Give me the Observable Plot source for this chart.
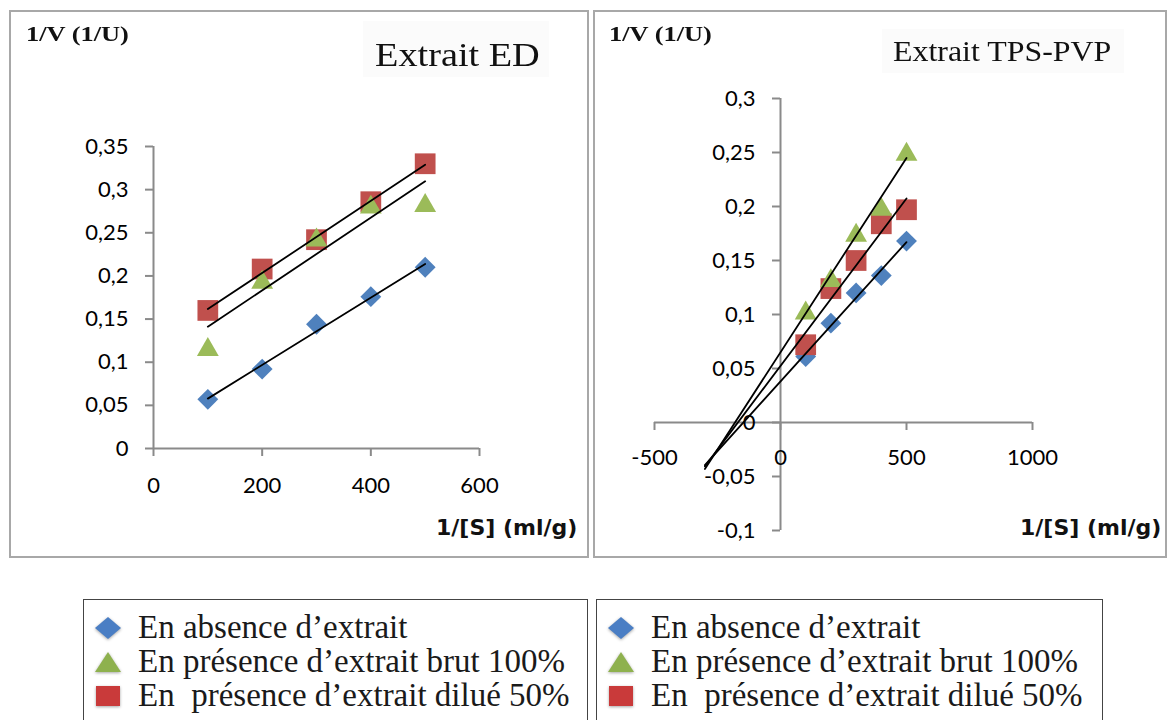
<!DOCTYPE html>
<html>
<head>
<meta charset="utf-8">
<script src="https://cdn.jsdelivr.net/npm/d3@7"></script>
<script src="https://cdn.jsdelivr.net/npm/@observablehq/plot@0.6"></script>
<style>
  html, body { margin: 0; padding: 0; background: #fff; }
  body { width: 1169px; height: 720px; overflow: hidden; position: relative; }
  .panel { position: absolute; border: 2px solid #a8a8a8; box-sizing: border-box; }
  .serif { font-family: "Liberation Serif", "Times New Roman", serif; color: #111; white-space: pre; line-height: 1; transform-origin: 0 0; }
  .axlab { font-family: "DejaVu Sans", sans-serif; font-weight: bold; font-size: 22px; line-height: 1; color: #111; white-space: pre; }
  .legend { position: absolute; border: 1px solid #444; box-sizing: border-box; background: #fff; }
  .legrow { position: absolute; font-family: "Liberation Serif", "Times New Roman", serif; font-size: 33px; line-height: 1; color: #1a1a1a; white-space: pre; }
</style>
</head>
<body>
<script>
// ---------- data ----------
const seriesNames = ["En absence d\u2019extrait", "En pr\u00e9sence d\u2019extrait brut 100%", "En  pr\u00e9sence d\u2019extrait dilu\u00e9 50%"];
const seriesColors = ["#4F81BD", "#9BBB59", "#C0504D"];
const seriesSymbols = ["diamond2", "triangle", "square"];

const xValues = [100, 200, 300, 400, 500];

// Extrait ED
const edAbsence = [0.057, 0.092, 0.144, 0.176, 0.210];
const edBrut    = [0.118, 0.196, 0.245, 0.283, 0.285];
const edDilue   = [0.160, 0.208, 0.242, 0.286, 0.330];
const edXTicks = [0, 200, 400, 600];
const edYTicks = [0, 0.05, 0.1, 0.15, 0.2, 0.25, 0.3, 0.35];

// Extrait TPS-PVP
const tpsAbsence = [0.061, 0.092, 0.120, 0.136, 0.168];
const tpsBrut    = [0.104, 0.134, 0.176, 0.200, 0.251];
const tpsDilue   = [0.072, 0.124, 0.150, 0.184, 0.197];
const tpsXTicks = [-500, 0, 500, 1000];
const tpsYTicks = [-0.1, -0.05, 0, 0.05, 0.1, 0.15, 0.2, 0.25, 0.3];
const tpsBackwardForecast = 400; // trendline extended backwards

const edTitle = "Extrait ED";
const tpsTitle = "Extrait TPS-PVP";
const yLabel = "1/V (1/U)";
const xLabel = "1/[S] (ml/g)";

// ---------- helpers ----------
const gray = "#8a8a8a";
const fmt = d => String(+d.toFixed(2)).replace(".", ",");

function toRows(series) {
  return series.flatMap((ys, s) => xValues.map((x, i) => ({x, y: ys[i], s})));
}
function regression(xs, ys) {
  const mx = d3.mean(xs), my = d3.mean(ys);
  const slope = d3.sum(xs, (x, i) => (x - mx) * (ys[i] - my)) / d3.sum(xs, x => (x - mx) ** 2);
  return {slope, intercept: my - slope * mx};
}
function trendRows(series, backward) {
  return series.flatMap((ys, s) => {
    const {slope, intercept} = regression(xValues, ys);
    const x0 = d3.min(xValues) - backward, x1 = d3.max(xValues);
    return [{x: x0, y: intercept + slope * x0, s}, {x: x1, y: intercept + slope * x1, s}];
  });
}
const drawOrder = [0, 2, 1];
function dotMarks(rows) {
  return drawOrder.map(s => Plot.dot(rows.filter(d => d.s === s), {
    x: "x", y: "y", symbol: seriesSymbols[s], fill: seriesColors[s], stroke: "none",
    r: s === 0 ? 9.4 : s === 1 ? 8.1 : 11.7, dy: s === 1 ? 3 : 0
  }));
}

function place(el, left, top) {
  el.style.position = "absolute";
  el.style.left = left + "px";
  el.style.top = top + "px";
  document.body.appendChild(el);
}
function addText(cls, text, left, top, extraStyle) {
  const d = document.createElement("div");
  d.className = cls;
  d.textContent = text;
  if (extraStyle) Object.assign(d.style, extraStyle);
  place(d, left, top);
  return d;
}

// ---------- panels ----------
const p1 = document.createElement("div"); p1.className = "panel";
Object.assign(p1.style, {left: "9px", top: "10px", width: "580px", height: "548px"});
document.body.appendChild(p1);
const p2 = document.createElement("div"); p2.className = "panel";
Object.assign(p2.style, {left: "593px", top: "10px", width: "574px", height: "548px"});
document.body.appendChild(p2);

// title backgrounds (very faint)
for (const [l, t, w, h] of [[363, 21, 186, 56], [882, 29, 242, 44]]) {
  const b = document.createElement("div");
  Object.assign(b.style, {width: w + "px", height: h + "px", background: "#fbfbfb"});
  place(b, l, t);
}

// ---------- chart 1: Extrait ED ----------
const ed = {w: 590, h: 560, ml: 153, mr: 111, mt: 146, mb: 112};
const edRows = toRows([edAbsence, edBrut, edDilue]);
const edTrend = trendRows([edAbsence, edBrut, edDilue], 0);
const chart1 = Plot.plot({
  width: ed.w, height: ed.h,
  marginLeft: ed.ml, marginRight: ed.mr, marginTop: ed.mt, marginBottom: ed.mb,
  x: {domain: [0, 600]},
  y: {domain: [0, 0.35]},
  style: {fontFamily: "Lato, sans-serif", fontSize: "22px", color: "#000", background: "transparent", overflow: "visible"},
  marks: [
    Plot.ruleY([0], {stroke: gray, strokeWidth: 2}),
    Plot.ruleX([0], {stroke: gray, strokeWidth: 2}),
    Plot.axisX({ticks: edXTicks, tickFormat: fmt, tickSize: 8, tickPadding: 21, stroke: gray, strokeWidth: 2, fill: "#000", fontSize: 22, label: null}),
    Plot.axisY({ticks: edYTicks, tickFormat: fmt, tickSize: 8, tickPadding: 17, stroke: gray, strokeWidth: 2, fill: "#000", fontSize: 22, label: null}),
    ...dotMarks(edRows),
    Plot.line(edTrend, {x: "x", y: "y", z: "s", stroke: "black", strokeWidth: 1.8})
  ]
});
place(chart1, 0, 0);

// ---------- chart 2: Extrait TPS-PVP ----------
const tp = {w: 579, h: 560, ml: 64, mr: 137, mt: 98, mb: 30};
const tpX = [-500, 1000], tpY = [-0.1, 0.3];
const tpRows = toRows([tpsAbsence, tpsBrut, tpsDilue]);
const tpTrend = trendRows([tpsAbsence, tpsBrut, tpsDilue], tpsBackwardForecast);
const tpInnerW = tp.w - tp.ml - tp.mr, tpInnerH = tp.h - tp.mt - tp.mb;
const yAxisShift = (0 - tpX[0]) / (tpX[1] - tpX[0]) * tpInnerW;   // y axis sits at x = 0
const xAxisShift = (0 - tpY[0]) / (tpY[1] - tpY[0]) * tpInnerH;   // x axis sits at y = 0
const chart2 = Plot.plot({
  width: tp.w, height: tp.h,
  marginLeft: tp.ml, marginRight: tp.mr, marginTop: tp.mt, marginBottom: tp.mb,
  x: {domain: tpX},
  y: {domain: tpY},
  style: {fontFamily: "Lato, sans-serif", fontSize: "22px", color: "#000", background: "transparent", overflow: "visible"},
  marks: [
    Plot.ruleY([0], {stroke: gray, strokeWidth: 2}),
    Plot.ruleX([0], {stroke: gray, strokeWidth: 2}),
    Plot.axisX({ticks: tpsXTicks, tickFormat: fmt, tickSize: 8, tickPadding: 19, stroke: gray, strokeWidth: 2, fill: "#000", fontSize: 22, label: null, dy: -xAxisShift}),
    Plot.axisY({ticks: tpsYTicks, tickFormat: fmt, tickSize: 8, tickPadding: 17, stroke: gray, strokeWidth: 2, fill: "#000", fontSize: 22, label: null, dx: yAxisShift}),
    ...dotMarks(tpRows),
    Plot.line(tpTrend, {x: "x", y: "y", z: "s", stroke: "black", strokeWidth: 1.8})
  ]
});
place(chart2, 590, 0);

// ---------- texts ----------
addText("serif", yLabel, 26, 23.5, {fontSize: "20px", fontWeight: "bold", transform: "scaleX(1.32)"});
addText("serif", yLabel, 609, 23.5, {fontSize: "20px", fontWeight: "bold", transform: "scaleX(1.32)"});
addText("serif", edTitle, 375, 39, {fontSize: "33px", transform: "scaleX(1.16)"});
addText("serif", tpsTitle, 893, 37, {fontSize: "29px", transform: "scaleX(1.1)"});
addText("axlab", xLabel, 436, 516.5);
addText("axlab", xLabel, 1020, 516.5);

// ---------- legends ----------
const legendColors = ["#4A7EC4", "#8EB14E", "#C93A3A"];
function legendMarker(s) {
  const svg = d3.create("svg").attr("width", 30).attr("height", 26).style("overflow", "visible")
    .style("filter", "drop-shadow(0px 1.5px 1.5px rgba(0,0,0,0.35))");
  let path;
  if (s === 0) path = "M15,2 L28,13 L15,24 L2,13 Z";
  else if (s === 1) path = "M15,3 L28,23 L2,23 Z";
  else path = "M3,3 L27,3 L27,23 L3,23 Z";
  svg.append("path").attr("d", path).attr("fill", legendColors[s]);
  return svg.node();
}
for (const [boxLeft, boxWidth] of [[83, 505], [596, 507]]) {
  const box = document.createElement("div");
  box.className = "legend";
  Object.assign(box.style, {left: boxLeft + "px", top: "599px", width: boxWidth + "px", height: "140px"});
  document.body.appendChild(box);
  seriesNames.forEach((name, s) => {
    const cy = 628 + s * 34;
    place(legendMarker(s), boxLeft + 10, cy - 13);
    addText("legrow", name, boxLeft + 55, cy + 10 - 0.8375 * 33 + 0.5);
  });
}
</script>
</body>
</html>
